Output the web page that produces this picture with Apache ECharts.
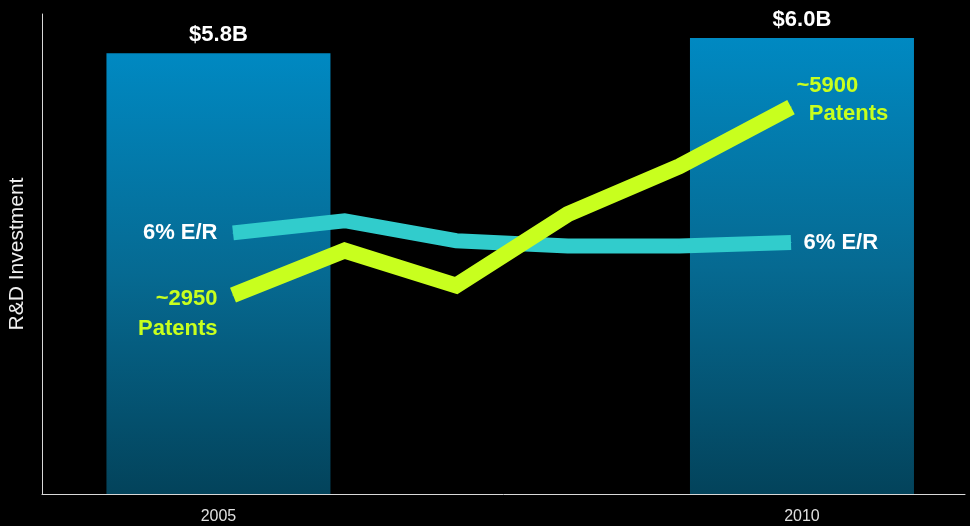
<!DOCTYPE html>
<html>
<head>
<meta charset="utf-8">
<script src="https://cdn.jsdelivr.net/npm/echarts@6/dist/echarts.min.js"></script>
<style>
html,body{margin:0;padding:0;background:#000;}
#chart{width:970px;height:526px;}
</style>
</head>
<body>
<div id="chart"></div>
<script>
// ---- data ----
var barYears = [2005, 2010];
var barValues = [5.8, 6.0];           // R&D investment, $B
var barLabels = ['$5.8B', '$6.0B'];
var lineYears = ['2005', '2006', '2007', '2008', '2009', '2010'];
var erValues = [6.0, 6.28, 5.82, 5.70, 5.70, 5.78];        // E/R %
var patentValues = [2950, 3650, 3100, 4220, 4970, 5900];   // patents
var erStartLabel = '6% E/R';
var erEndLabel = '6% E/R';
var patentStartLabel = '~2950\nPatents';
var patentEndLabel = '~5900\n  Patents';
var yAxisName = 'R&D Investment';

var FONT = '"Liberation Sans", Arial, sans-serif';
var CYAN = '#31cccc';
var GREEN = '#c8ff1e';

var chart = echarts.init(document.getElementById('chart'), null, {renderer: 'canvas'});

var barData = barYears.map(function (y, i) {
  return {
    value: [y, barValues[i]],
    label: {formatter: barLabels[i]}
  };
});

function lineData(values, startLbl, endLbl, startCfg, endCfg) {
  return values.map(function (v, i) {
    var item = {value: v};
    if (i === 0) {
      item.label = Object.assign({show: true, formatter: startLbl}, startCfg);
    } else if (i === values.length - 1) {
      item.label = Object.assign({show: true, formatter: endLbl}, endCfg);
    }
    return item;
  });
}

var labelBase = {fontFamily: FONT, fontWeight: 'bold', fontSize: 22};

var option = {
  backgroundColor: '#000',
  animation: false,
  grid: [
    {left: 42, right: 5, top: 14, bottom: 32, containLabel: false, outerBoundsMode: 'none'},
    {left: 233, right: 179, top: 14, bottom: 32, containLabel: false, outerBoundsMode: 'none'}
  ],
  xAxis: [
    {
      type: 'value', gridIndex: 0,
      min: 2003.488, max: 2011.397,
      splitLine: {show: false},
      axisLine: {show: true, lineStyle: {color: '#d8d8d8', width: 1}},
      axisTick: {show: false},
      axisLabel: {
        customValues: barYears,
        color: '#e0e0e0', fontFamily: FONT, fontSize: 16, margin: 15,
        formatter: function (v) { return String(Math.round(v)); }
      }
    },
    {
      type: 'category', gridIndex: 1, data: lineYears, boundaryGap: false,
      show: false
    }
  ],
  yAxis: [
    {
      type: 'value', gridIndex: 0, min: 0, max: 6.316,
      name: yAxisName, nameLocation: 'middle', nameGap: 14,
      nameRotate: 90,
      nameTextStyle: {color: '#f0f0f0', fontFamily: FONT, fontSize: 21},
      splitLine: {show: false},
      axisLine: {show: true, lineStyle: {color: '#d8d8d8', width: 1}},
      axisTick: {show: false},
      axisLabel: {show: false}
    },
    {type: 'value', gridIndex: 1, min: 0, max: 11.03, show: false, splitLine: {show: false}},
    {type: 'value', gridIndex: 1, min: -170, max: 7360, show: false, splitLine: {show: false}}
  ],
  series: [
    {
      type: 'bar', xAxisIndex: 0, yAxisIndex: 0,
      data: barData,
      barWidth: 224,
      itemStyle: {
        color: new echarts.graphic.LinearGradient(0, 0, 0, 1, [
          {offset: 0, color: '#0089c2'},
          {offset: 0.5, color: '#066a92'},
          {offset: 1, color: '#03435b'}
        ])
      },
      label: Object.assign({show: true, position: 'top', distance: 7, color: '#ffffff'}, labelBase)
    },
    {
      type: 'line', xAxisIndex: 1, yAxisIndex: 1,
      data: lineData(erValues, erStartLabel, erEndLabel,
        {position: 'left', distance: 15, color: '#ffffff'},
        {position: 'right', distance: 12, color: '#ffffff'}),
      symbol: 'circle', symbolSize: 1,
      itemStyle: {color: CYAN},
      lineStyle: {color: CYAN, width: 15, cap: 'butt', join: 'miter'},
      label: Object.assign({}, labelBase),
      emphasis: {disabled: true}
    },
    {
      type: 'line', xAxisIndex: 1, yAxisIndex: 2,
      data: lineData(patentValues, patentStartLabel, patentEndLabel,
        {position: 'left', distance: 15, color: GREEN, lineHeight: 30, offset: [0, 19], align: 'right'},
        {position: 'right', distance: 5, color: GREEN, lineHeight: 28, offset: [0, -7], align: 'left'}),
      symbol: 'circle', symbolSize: 1,
      itemStyle: {color: GREEN},
      lineStyle: {color: GREEN, width: 16, cap: 'butt', join: 'miter'},
      label: Object.assign({}, labelBase),
      emphasis: {disabled: true}
    }
  ]
};

chart.setOption(option);
</script>
</body>
</html>
